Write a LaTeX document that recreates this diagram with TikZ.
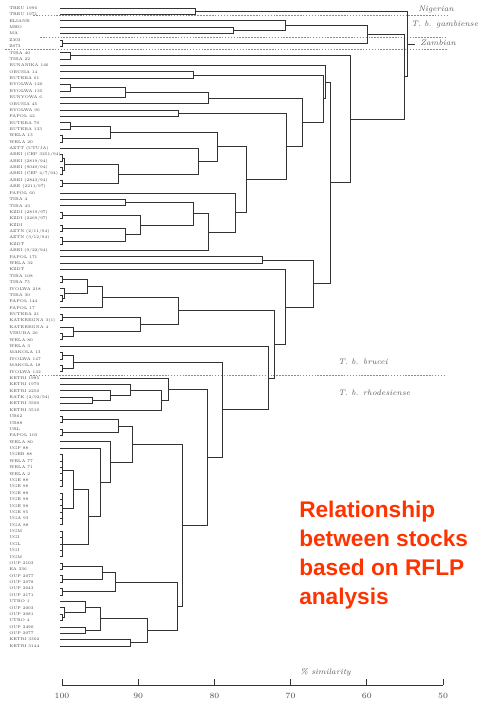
\documentclass[tikz,border=0pt]{standalone}
\usepackage{fontspec}
\newfontfamily\redfont{Liberation Sans}
\usetikzlibrary{calc}
\definecolor{relred}{RGB}{255,51,0}
\tikzset{
  dline/.style={draw=black!80, line width=0.55pt},
  grpline/.style={draw=black!45, dash pattern=on 1.2pt off 1pt, line width=0.4pt},
  lab/.style={anchor=west, inner sep=0pt, font=\fontsize{3}{3.5}\selectfont, text=black!75},
  grp/.style={anchor=west, inner sep=0pt, font=\fontsize{6}{7}\selectfont\itshape, text=black!65},
}
% join two branches at a given similarity x (px)
\newcommand\merge[4]{%
  \draw[dline] let \p1=(#2), \p2=(#3) in
    (\p1) -- (#4*0.75pt,\y1) -- (#4*0.75pt,\y2) -- (\p2);
  \path let \p1=(#2), \p2=(#3) in
    coordinate (#1) at ($(#4*0.75pt,\y1)!0.5!(#4*0.75pt,\y2)$);
}
% identical stocks: short ticks on one bar
\newcommand\comb[3]{%
  \foreach \leafi in {#2,...,#3}{\draw[dline] (l\leafi) -- ++(2.5,0);}
  \draw[dline] ([xshift=1.875pt]l#2) -- ([xshift=1.875pt]l#3) coordinate[midway] (#1);
}
\begin{document}
\begin{tikzpicture}[x=0.75pt,y=-0.75pt]
\useasboundingbox (0,0) rectangle (480,702);
%group separators
\draw[grpline] (33,15) -- (447,15);
\draw[grpline] (40,37) -- (447,37);
\draw[grpline] (5,49) -- (447,49);
\draw[grpline] (30,375) -- (445,375);
%stocks
\foreach \lab [count=\i] in {TREU 1996, TREU 1971, ELIANE, MHO, MA, Z303, Z073, TIBA 40, TIBA 22,
  BUNANIKA 146, OBUSIA 14, BUTEBA 61, BYOLWA 120, BYOLWA 135, BUNYOWA 6, OBUSIA 45, BYOLWA 96,
  PAPOL 42, BUTEBA 70, BUTEBA 133, WELA 13, WELA 20, AZTT (UTUJA), ABEI (CEP 3251/94),
  ABEI (2819/94), ABEI (9049/94), ABEI (CEP 4/7/94), ABEI (2843/94), ABE (2211/97), PAPOL 60,
  TIBA 4, TIBA 43, KZDI (2819/97), KZDI (2469/97), KZDI, AZTN (2/11/94), AZTN (3/12/94), KZDT,
  ABEI (9/22/94), PAPOL 171, WELA 32, KZDT, TIBA 108, TIBA 75, IYOLWA 218, TIBA 30, PAPOL 144,
  PAPOL 17, BUTEBA 21, KATEREGNA 3(1), KATEREGNA 4, VIRUBA 26, WELA 80, WELA 3, MAKOLA 13,
  IYOLWA 147, MAKOLA 18, IYOLWA 132, KETRI 1985, KETRI 1970, KETRI 2250, RATK (2/92/94),
  KETRI 3500, KETRI 3510, UB62, UB88, UBL, PAPOL 103, WELA 80, UGP 88, UGEB 88, WELA 77, WELA 71,
  WELA 2, UGE 88, UGE 98, UGE 88, UGE 98, UGE 98, UGE 95, UGA 93, UGA 88, UGM, UGI, UGL, UGI, UGM,
  OUP 2103, EA 336, OUP 2077, OUP 2078, OUP 2043, OUP 2171, UTRO 1, OUP 2003, OUP 2081, UTRO 4,
  OUP 2490, OUP 2077, KETRI 3302, KETRI 3144}{
  \node[lab] (n\i) at (9,{8+6.38*(\i-1)}) {\lab};
  \coordinate (l\i) at (60,{8+6.38*(\i-1)});
}
%Nigerian, gambiense, Zambian
\merge{m1}{l1}{l2}{195}
\merge{m4}{l4}{l5}{233}
\merge{m3}{l3}{m4}{285}
\merge{m6}{l6}{l7}{62.5}
\merge{m3to7}{m3}{m6}{367}
%brucei
\merge{m8}{l8}{l9}{70}
\merge{m11}{l11}{l12}{193}
\merge{m13}{l13}{l14}{70}
\merge{m13to15}{m13}{l15}{125}
\merge{m13to16}{m13to15}{l16}{208}
\merge{m17}{l17}{l18}{178}
\merge{m19}{l19}{l20}{70}
\merge{m21}{l21}{l22}{62.5}
\merge{m19to22}{m19}{m21}{110}
\merge{m24}{l24}{l25}{62.5}
\merge{m26}{l26}{l27}{62.5}
\merge{m24to27}{m24}{m26}{64}
\merge{m28}{l28}{l29}{62.5}
\merge{m24to29}{m24to27}{m28}{118}
\merge{m23to29}{l23}{m24to29}{198}
\merge{m19to29}{m19to22}{m23to29}{217}
\merge{m31}{l31}{l32}{125}
\merge{m33}{l33}{l34}{62.5}
\merge{m35}{l35}{l36}{62.5}
\merge{m37}{l37}{l38}{62.5}
\merge{m35to38}{m35}{m37}{125}
\merge{m33to38}{m33}{m35to38}{140}
\merge{m31to38}{m31}{m33to38}{193}
\merge{m31to39}{m31to38}{l39}{208}
\merge{m30to39}{l30}{m31to39}{235}
\merge{m19to39}{m19to29}{m30to39}{246}
\merge{m17to39}{m17}{m19to39}{286}
\merge{m13to39}{m13to16}{m17to39}{302}
\merge{m11to39}{m11}{m13to39}{323}
\merge{m10to39}{l10}{m11to39}{325}
\merge{m40}{l40}{l41}{262}
\merge{m43}{l43}{l44}{62.5}
\merge{m46}{l46}{l47}{62.5}
\merge{m45to47}{l45}{m46}{64}
\merge{m43to47}{m43}{m45to47}{87}
\merge{m43to48}{m43to47}{l48}{102}
\merge{m49}{l49}{l50}{62.5}
\merge{m52}{l52}{l53}{62.5}
\merge{m51to53}{l51}{m52}{73}
\merge{m49to53}{m49}{m51to53}{140}
\merge{m43to53}{m43to48}{m49to53}{178}
\merge{m55}{l55}{l56}{62.5}
\merge{m57}{l57}{l58}{62.5}
\merge{m55to58}{m55}{m57}{73}
%rhodesiense
\merge{m62}{l62}{l63}{92}
\merge{m61to63}{l61}{m62}{110}
\merge{m60to63}{l60}{m61to63}{130}
\merge{m60to64}{m60to63}{l64}{161}
\merge{m59to64}{l59}{m60to64}{168}
\merge{m65}{l65}{l66}{62.5}
\merge{m67}{l67}{l68}{62.5}
\merge{m65to68}{m65}{m67}{118}
\comb{k71}{71}{76}
\comb{k77}{77}{82}
\comb{k83}{83}{87}
\merge{m71to82}{k71}{k77}{73}
\merge{m71to87}{m71to82}{k83}{88}
\merge{m70to87}{l70}{m71to87}{100}
\merge{m69to87}{l69}{m70to87}{110}
\merge{m65to87}{m65to68}{m69to87}{132}
\merge{m88}{l88}{l89}{62.5}
\merge{m90}{l90}{l91}{62.5}
\merge{m88to91}{m88}{m90}{102}
\merge{m92}{l92}{l93}{62.5}
\merge{m88to93}{m88to91}{m92}{115}
\merge{m96}{l96}{l97}{62.5}
\merge{m95to97}{l95}{m96}{64}
\merge{m94to97}{l94}{m95to97}{85}
\merge{m98}{l98}{l99}{85}
\merge{m94to99}{m94to97}{m98}{100}
\merge{m100}{l100}{l101}{130}
\merge{m94to101}{m94to99}{m100}{147}
\merge{m88to101}{m88to93}{m94to101}{177}
\merge{m65to101}{m65to87}{m88to101}{182}
\merge{m59to101}{m59to64}{m65to101}{207}
%upper joins
\merge{m55to101}{m55to58}{m59to101}{222}
\merge{m54to101}{l54}{m55to101}{268}
\merge{m43to101}{m43to53}{m54to101}{274}
\merge{m42to101}{l42}{m43to101}{285}
\merge{m40to101}{m40}{m42to101}{313}
\merge{m10to101}{m10to39}{m40to101}{330}
\merge{m8to101}{m8}{m10to101}{350}
\merge{m3to101}{m3to7}{m8to101}{404}
\merge{root}{m1}{m3to101}{407}
\draw[dline] (root) -- ++(8,0) coordinate (rootend);
%group names
\node[grp] (nig) at (418,10) {Nigerian};
\node[grp] (gamb) at (411,25) {T. b. gambiense};
\node[grp] (zamb) at (420,43) {Zambian};
\node[grp] (bru) at (338,362) {T. b. brucei};
\node[grp] (rho) at (338,393) {T. b. rhodesiense};
%scale
\node[grp] (simlab) at (300,672) {\% similarity};
\draw[dline] (62,685) coordinate (ax0) -- (443,685) coordinate (ax1);
\foreach \v in {100,90,80,70,60,50}{
  \draw[dline] ({62+(100-\v)*7.62},685) -- ++(0,-6);
  \node[inner sep=0pt, font=\fontsize{6}{7}\selectfont, text=black!70] (tick\v) at ({62+(100-\v)*7.62},696) {\v};
}
\node[anchor=north west, inner sep=0pt, align=left, text=relred,
  font=\redfont\bfseries\fontsize{17}{21.75}\selectfont] (caption) at (299,501)
  {Relationship\\between stocks\\based on RFLP\\analysis};
\end{tikzpicture}
\end{document}
